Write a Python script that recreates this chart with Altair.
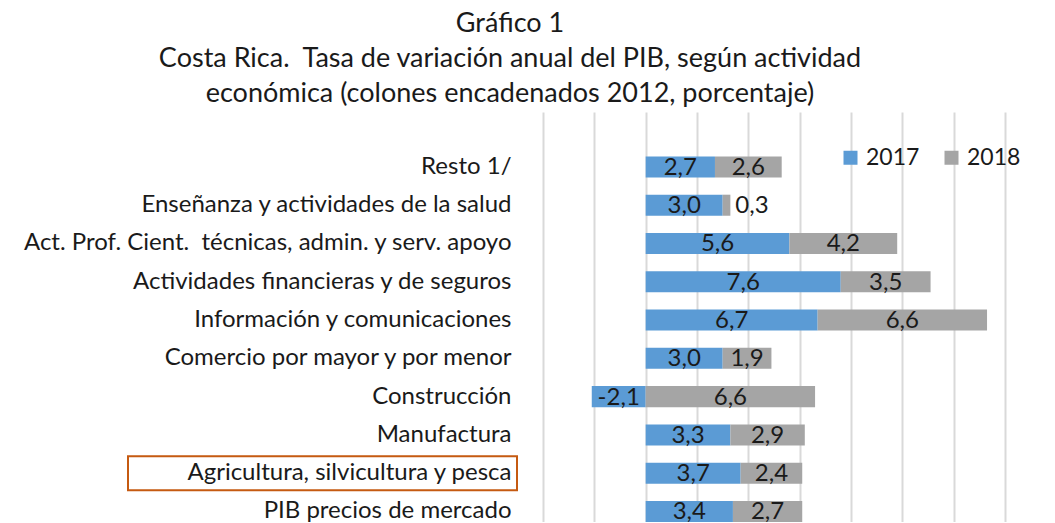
import altair as alt
import pandas as pd

categories = [
    "Resto 1/",
    "Enseñanza y actividades de la salud",
    "Act. Prof. Cient.\u00a0 técnicas, admin. y serv. apoyo",
    "Actividades financieras y de seguros",
    "Información y comunicaciones",
    "Comercio por mayor y por menor",
    "Construcción",
    "Manufactura",
    "Agricultura, silvicultura y pesca",
    "PIB precios de mercado",
]
v2017 = [2.7, 3.0, 5.6, 7.6, 6.7, 3.0, -2.1, 3.3, 3.7, 3.4]
v2018 = [2.6, 0.3, 4.2, 3.5, 6.6, 1.9, 6.6, 2.9, 2.4, 2.7]
years = ["2017", "2018"]
colors = ["#5B9BD5", "#A5A5A5"]
highlight = "Agricultura, silvicultura y pesca"
title_lines = [
    "Gráfico 1",
    "Costa Rica.\u00a0 Tasa de variación anual del PIB, según actividad",
    "económica (colones encadenados 2012, porcentaje)",
]

rows = []
for c, a, b in zip(categories, v2017, v2018):
    rows.append({"cat": c, "year": "2017", "value": a})
    rows.append({"cat": c, "year": "2018", "value": b})
df = pd.DataFrame(rows)

FONT = "Lato"
TXT = "#1a1a1a"

yenc = alt.Y(
    "cat:N",
    sort=categories,
    title=None,
    scale=alt.Scale(paddingInner=0.45, paddingOuter=0.58, align=1),
    axis=alt.Axis(
        labelFontSize=24, labelFont=FONT, labelColor=TXT, labelLimit=700,
        domain=False, ticks=False, tickSize=0, grid=False, labelPadding=32,
    ),
)
xscale = alt.Scale(domain=[-4, 14], nice=False, zero=False)

base = alt.Chart(df)

bars = base.mark_bar().encode(
    y=yenc,
    x=alt.X(
        "value:Q", stack="zero", scale=xscale, title=None,
        axis=alt.Axis(values=list(range(-4, 15, 2)), labels=False, ticks=False,
                      domain=False, grid=True, gridColor="#D9D9D9", gridWidth=2),
    ),
    color=alt.Color(
        "year:N", scale=alt.Scale(domain=years, range=colors),
        legend=alt.Legend(
            title=None, orient="none", legendX=296, legendY=34, direction="horizontal",
            symbolType="square", symbolSize=196, symbolStrokeWidth=0,
            labelFontSize=23, labelFont=FONT, labelColor=TXT, columnPadding=20,
            symbolOffset=0, labelOffset=4,
        ),
    ),
    order=alt.Order("year:N", sort="ascending"),
)

stacked = base.transform_stack(
    stack="value", groupby=["cat"], as_=["v0", "v1"],
    sort=[alt.SortField("year", order="ascending")],
).transform_calculate(
    mid="(datum.v0 + datum.v1) / 2",
    lab="replace(replace(format(datum.value, '.1f'), '.', ','), '\u2212', '-')",
)

labels_in = stacked.transform_filter("abs(datum.value) >= 1").mark_text(
    fontSize=24, font=FONT, color=TXT, baseline="middle", dy=1
).encode(y=alt.Y("cat:N", sort=categories), x=alt.X("mid:Q", scale=xscale), text="lab:N")

labels_out = stacked.transform_filter("abs(datum.value) < 1").mark_text(
    fontSize=24, font=FONT, color=TXT, baseline="middle", align="left", dx=5, dy=1
).encode(y=alt.Y("cat:N", sort=categories), x=alt.X("v1:Q", scale=xscale), text="lab:N")

box = alt.Chart(pd.DataFrame({"cat": [highlight]})).mark_bar(
    size=34, fillOpacity=0, stroke="#C55A11", strokeWidth=2, clip=False
).encode(
    y=alt.Y("cat:N", sort=categories),
    x=alt.value(-415),
    x2=alt.value(-26),
)

chart = alt.layer(bars, labels_in, labels_out, box).properties(
    width=462,
    height=410,
    autosize="none",
    padding={"left": 535, "top": 104, "right": 40, "bottom": 0},
    title=alt.TitleParams(
        text=title_lines,
        font=FONT, fontSize=27, fontWeight="normal", color=TXT,
        anchor="middle", dx=-264, lineHeight=35, offset=4,
    ),
).configure_view(stroke=None)

chart.save("out.html", embed_options={"renderer": "svg", "actions": False})
